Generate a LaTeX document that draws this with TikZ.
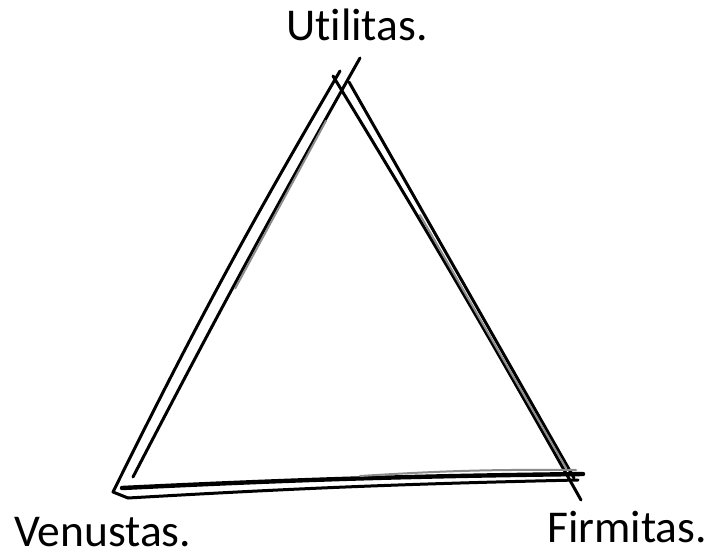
\documentclass[tikz,border=0pt]{standalone}
\usepackage{fontspec}
\setmainfont{Carlito}[Ligatures=NoCommon]
\usetikzlibrary{calc}

\begin{document}
\begin{tikzpicture}[
  x=1pt,y=-1pt,
  pen/.style={draw=black,line width=3pt,line cap=round,line join=round},
  faint/.style={pen,draw=black!45,line width=2pt},
  heavy/.style={pen,line width=4.4pt},
  word/.style={font=\fontsize{45.5}{52}\selectfont,inner sep=0pt,anchor=base west}
]
\useasboundingbox (0,0) rectangle (718,554);
% stroke ends, left side
\coordinate (lefttop) at (340,71);
\coordinate (leftfoot) at (113,492);
\coordinate (innertop) at (360,58);
\coordinate (innerfoot) at (133,477);
% stroke ends, right side
\coordinate (righttop) at (333,76);
\coordinate (rightfoot) at (581,500);
\coordinate (secondtop) at (349,82);
\coordinate (secondfoot) at (574,478);
\coordinate (thirdtop) at (420,215);
\coordinate (thirdfoot) at (566,468);
% stroke ends, base
\coordinate (basestart) at (122,488);
\coordinate (baseend) at (583,474);
\coordinate (lowcorner) at (128,498);
\coordinate (lowend) at (578,480);
\coordinate (upperstart) at (360,476);
\coordinate (upperend) at (576,470);

\node[word] (utilitas) at (286,40) {Utilitas.};
\node[word] (venustas) at (14,546) {Venustas.};
\node[word] (firmitas) at (547,542) {Firmitas.};

% left side
\draw[pen] (lefttop) to[bend right=2] (leftfoot) -- (lowcorner);
\draw[pen] (innertop) to[bend right=1] (innerfoot);
\draw[faint] ($(innertop)!0.15!(innerfoot)$) -- ($(innertop)!0.55!(innerfoot)$);
% right side
\draw[pen] (righttop) to[bend left=1] (rightfoot);
\draw[pen] (secondtop) -- (secondfoot);
\draw[faint] (thirdtop) -- (thirdfoot);
% base
\draw[heavy] (basestart) to[bend left=1] (baseend);
\draw[pen] (lowcorner) to[bend left=1] (lowend);
\draw[faint] (upperstart) to[bend left=2] (upperend);
\end{tikzpicture}
\end{document}
